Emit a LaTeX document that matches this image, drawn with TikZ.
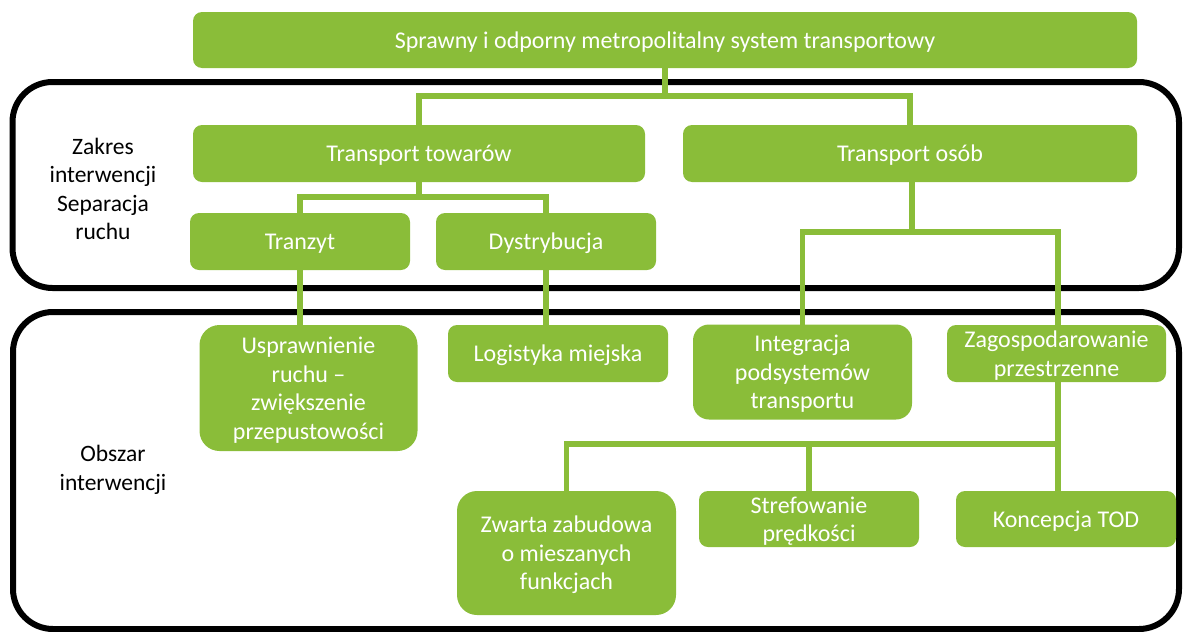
\documentclass[tikz,border=0pt]{standalone}
\usepackage{fontspec}
\setmainfont{Carlito}
\definecolor{leaf}{RGB}{138,189,57}
\tikzset{
  gbox/.style={fill=leaf, draw=none, text=white, align=center, inner sep=0pt,
    font=\fontsize{24}{28.5}\selectfont, rounded corners=9pt, text depth=0pt},
  tallbox/.style={gbox, rounded corners=20pt},
  midbox/.style={gbox, rounded corners=16pt},
  conn/.style={draw=leaf, line width=5.5pt, line join=miter, line cap=rect},
  frame/.style={draw=black, line width=6pt, rounded corners=40pt},
  lbl/.style={text=black, align=center, inner sep=0pt, font=\fontsize{23.5}{28.5}\selectfont}
}
\begin{document}
\begin{tikzpicture}[x=1pt,y=-1pt]
\useasboundingbox (0,0) rectangle (1184,632);
% frames
\draw[frame] (12.5,82) rectangle (1179,288);
\draw[frame] (13,312) rectangle (1179,629);
% boxes
\node[gbox, minimum width=944pt, minimum height=56pt] (top) at (665,40) {Sprawny i odporny metropolitalny system transportowy};
\node[gbox, minimum width=452pt, minimum height=57pt] (tt) at (419,153.5) {Transport towarów};
\node[gbox, minimum width=454pt, minimum height=57pt] (to) at (910,153.5) {Transport osób};
\node[gbox, minimum width=220pt, minimum height=57pt] (tr) at (300,241.5) {Tranzyt};
\node[gbox, minimum width=220pt, minimum height=57pt] (dy) at (546,241.5) {Dystrybucja};
\node[tallbox, minimum width=218pt, minimum height=126pt] (us) at (308.5,388) {Usprawnienie\\ruchu –\\zwiększenie\\przepustowości};
\node[gbox, minimum width=220pt, minimum height=57pt] (lo) at (558,353.5) {Logistyka miejska};
\node[midbox, minimum width=219pt, minimum height=95pt] (in) at (802.5,372) {Integracja\\podsystemów\\transportu};
\node[gbox, minimum width=219pt, minimum height=57pt] (za) at (1056.5,353.5) {Zagospodarowanie\\przestrzenne};
\node[tallbox, minimum width=219pt, minimum height=124pt] (zw) at (566.5,553) {Zwarta zabudowa\\o mieszanych\\funkcjach};
\node[gbox, minimum width=220pt, minimum height=56pt] (st) at (809,519) {Strefowanie\\prędkości};
\node[gbox, minimum width=220pt, minimum height=56pt] (ko) at (1066,519) {Koncepcja TOD};
% labels
\node[lbl] (zakres) at (103,189) {Zakres\\interwencji\\Separacja\\ruchu};
\node[lbl] (obszar) at (113,470) {Obszar\\interwencji};
% junctions
\coordinate (j1) at (665,96);
\coordinate (j2) at (419,197);
\coordinate (j3) at (912,232);
\coordinate (j4) at (1058,444);
% connectors
\draw[conn] (top.south) -- (j1);
\draw[conn] (tt.north) |- (j1) -| (to.north);
\draw[conn] (tt.south) -- (j2);
\draw[conn] (tr.north) |- (j2) -| (dy.north);
\draw[conn] (tr.south) -- (tr.south |- us.north);
\draw[conn] (dy.south) -- (dy.south |- lo.north);
\draw[conn] (to.south -| j3) -- (j3);
\draw[conn] (in.north) |- (j3) -| (za.north -| j4);
\draw[conn] (za.south -| j4) -- (j4 |- ko.north);
\draw[conn] (zw.north) |- (j4);
\draw[conn] (st.north) -- (st.north |- j4);
\end{tikzpicture}
\end{document}
